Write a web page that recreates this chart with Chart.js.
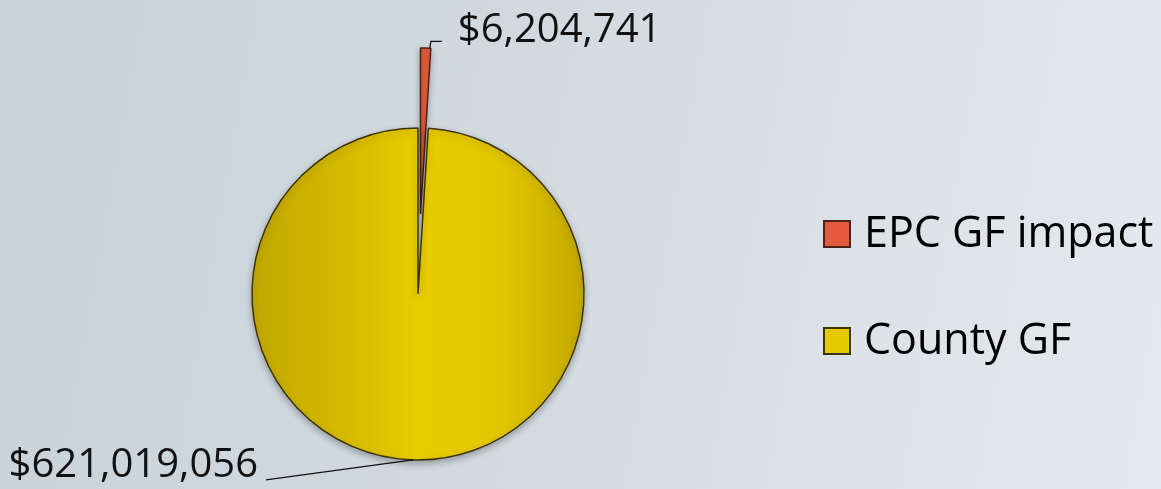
<!DOCTYPE html>
<html>
<head>
<meta charset="utf-8">
<script src="https://cdn.jsdelivr.net/npm/chart.js@4/dist/chart.umd.min.js"></script>
<style>
  html, body { margin: 0; padding: 0; }
  body {
    width: 1161px; height: 489px; overflow: hidden;
    background: linear-gradient(100deg, #c8d2d8 0%, #d2dae0 45%, #e5e9ed 100%);
  }
  canvas { display: block; }
</style>
</head>
<body>
<canvas id="pieChart" width="1161" height="489"></canvas>
<script>
// data
const categories = ['EPC GF impact', 'County GF'];
const amounts = [6204741, 621019056];
const amountLabels = ['$6,204,741', '$621,019,056'];
const sliceColors = ['#e35b3b', '#e4c800'];
const borderColors = ['#4a2218', '#3d3400'];
const explodeBy = [80, 0];

const PIE_RADIUS = 166;
const LABEL_FONT = '40px "Open Sans"';
const LEGEND_FONT = '43px "Open Sans"';

// chart.js "offset" also narrows the wedge, which eats a 1% slice,
// so push the slice out by translating instead
const ArcEl = Chart.ArcElement || Chart.registry.getElement('arc');
const baseArcDraw = ArcEl.prototype.draw;
ArcEl.prototype.draw = function (ctx) {
  const i = this.$context ? this.$context.dataIndex : -1;
  const d = explodeBy[i] || 0;
  if (!d) return baseArcDraw.call(this, ctx);
  const half = (this.startAngle + this.endAngle) / 2;
  ctx.save();
  ctx.translate(Math.cos(half) * d, Math.sin(half) * d);
  baseArcDraw.call(this, ctx);
  ctx.restore();
};

function sliceFill(context) {
  if (context.dataIndex !== 1) return sliceColors[context.dataIndex];
  const chart = context.chart;
  const area = chart.chartArea;
  if (!area) return sliceColors[1];
  const cx = (area.left + area.right) / 2;
  const g = chart.ctx.createLinearGradient(cx - PIE_RADIUS, 0, cx + PIE_RADIUS, 0);
  g.addColorStop(0, '#c2a800');
  g.addColorStop(0.3, '#d6bb00');
  g.addColorStop(0.5, '#e8cd00');
  g.addColorStop(0.75, '#e2c600');
  g.addColorStop(1, '#c4a900');
  return g;
}

// soft shadow under the pie
const shadowPlugin = {
  id: 'shadowPlugin',
  beforeDatasetsDraw(chart) {
    const ctx = chart.ctx;
    ctx.save();
    ctx.shadowColor = 'rgba(0,0,0,0.28)';
    ctx.shadowBlur = 7;
    ctx.shadowOffsetY = 3;
  },
  afterDatasetsDraw(chart) {
    chart.ctx.restore();
  }
};

// value labels with leader lines + legend
const labelPlugin = {
  id: 'labelPlugin',
  afterDraw(chart) {
    const ctx = chart.ctx;
    const arcs = chart.getDatasetMeta(0).data;
    ctx.save();
    ctx.strokeStyle = '#111';
    ctx.lineWidth = 1.3;
    ctx.fillStyle = '#111';
    ctx.font = LABEL_FONT;
    ctx.textBaseline = 'alphabetic';

    // small slice (exploded)
    const p = arcs[0].getProps(['x', 'y', 'startAngle', 'endAngle', 'outerRadius']);
    const mid = (p.startAngle + p.endAngle) / 2;
    const off = explodeBy[0];
    const sx = p.x + Math.cos(mid) * off + Math.cos(p.endAngle) * p.outerRadius;
    const sy = p.y + Math.sin(mid) * off + Math.sin(p.endAngle) * p.outerRadius;
    ctx.beginPath();
    ctx.moveTo(sx - 1, sy);
    ctx.lineTo(sx, sy - 7);
    ctx.lineTo(sx + 11, sy - 7);
    ctx.stroke();
    ctx.textAlign = 'left';
    ctx.fillText(amountLabels[0], sx + 27, sy - 6);

    // big slice, label at bottom left
    const b = arcs[1].getProps(['x', 'y', 'outerRadius']);
    const ang = Math.PI / 2 + 0.03;
    const bx = b.x + Math.cos(ang) * b.outerRadius;
    const by = b.y + Math.sin(ang) * b.outerRadius;
    ctx.beginPath();
    ctx.moveTo(bx, by);
    ctx.lineTo(bx - 147, by + 20);
    ctx.stroke();
    ctx.textAlign = 'right';
    ctx.fillText(amountLabels[1], bx - 155, by + 17);

    // legend
    const legendX = 824, legendBase = [247, 354];
    ctx.font = LEGEND_FONT;
    ctx.textAlign = 'left';
    categories.forEach((c, i) => {
      ctx.fillStyle = sliceColors[i];
      ctx.fillRect(legendX, legendBase[i] - 26, 26, 26);
      ctx.strokeStyle = borderColors[i];
      ctx.lineWidth = 2;
      ctx.strokeRect(legendX, legendBase[i] - 26, 26, 26);
      ctx.fillStyle = '#000';
      ctx.fillText(c, legendX + 40, legendBase[i]);
    });
    ctx.restore();
  }
};

const pieChart = new Chart(document.getElementById('pieChart').getContext('2d'), {
  type: 'pie',
  data: {
    labels: categories,
    datasets: [{
      data: amounts,
      backgroundColor: sliceFill,
      borderColor: borderColors,
      borderWidth: 1.5,
      hoverOffset: 0,
      radius: PIE_RADIUS,
      clip: false
    }]
  },
  options: {
    responsive: false,
    animation: false,
    layout: { padding: { left: 0, right: 325, top: 99, bottom: 0 } },
    plugins: {
      legend: { display: false },
      tooltip: { enabled: false }
    }
  },
  plugins: [shadowPlugin, labelPlugin]
});
</script>
</body>
</html>
